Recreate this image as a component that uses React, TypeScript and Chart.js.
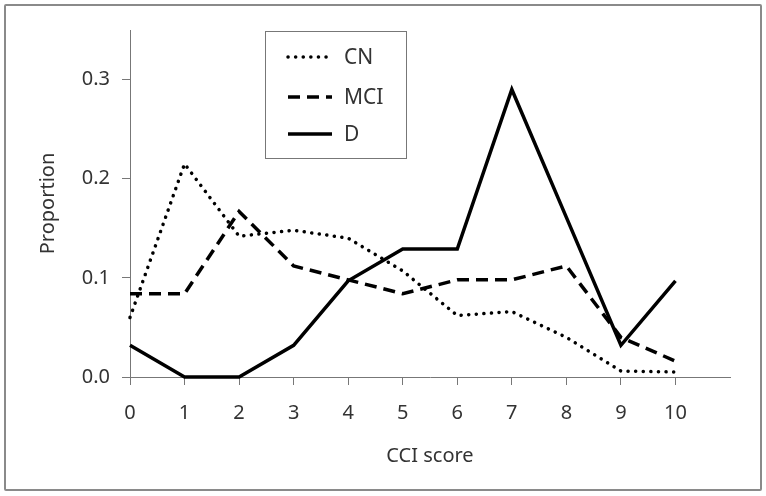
import React, { useEffect, useRef } from "react";
import { Chart, registerables } from "chart.js";

Chart.register(...registerables);

const scores = [0, 1, 2, 3, 4, 5, 6, 7, 8, 9, 10];
const cnValues = [0.06, 0.215, 0.142, 0.148, 0.14, 0.107, 0.062, 0.066, 0.04, 0.006, 0.005];
const mciValues = [0.084, 0.084, 0.167, 0.112, 0.098, 0.084, 0.098, 0.098, 0.112, 0.04, 0.016];
const dValues = [0.032, 0, 0, 0.032, 0.097, 0.129, 0.129, 0.29, 0.161, 0.032, 0.097];
const yTickValues = [0, 0.1, 0.2, 0.3];
const seriesNames = ["CN", "MCI", "D"];

const FONT = "'Noto Sans', 'Open Sans', sans-serif";
const TEXT = "#333";
const AXIS = "#777";

const legendPlugin = {
  id: "boxLegend",
  afterDraw(chart: any) {
    const ctx = chart.ctx;
    ctx.save();
    ctx.strokeStyle = "#777";
    ctx.lineWidth = 1;
    ctx.strokeRect(265.5, 31.5, 141, 127);
    const ys = [57, 97, 134];
    chart.data.datasets.forEach((ds: any, i: number) => {
      ctx.beginPath();
      ctx.strokeStyle = "#000";
      ctx.lineWidth = ds.borderWidth;
      ctx.lineCap = ds.borderCapStyle || "butt";
      ctx.setLineDash(ds.borderDash || []);
      ctx.moveTo(288, ys[i]);
      ctx.lineTo(332, ys[i]);
      ctx.stroke();
      ctx.setLineDash([]);
      ctx.fillStyle = TEXT;
      ctx.font = `21px ${FONT}`;
      ctx.textAlign = "left";
      ctx.textBaseline = "middle";
      ctx.fillText(ds.label, 344, ys[i] + 1);
    });
    ctx.restore();
  },
};

export default function App() {
  const ref = useRef<HTMLCanvasElement | null>(null);
  useEffect(() => {
    document.body.style.margin = "0";
    const toPts = (arr: number[]) => scores.map((x, i) => ({ x, y: arr[i] }));
    const chart = new Chart(ref.current as HTMLCanvasElement, {
      type: "line",
      data: {
        datasets: [
          {
            label: seriesNames[0],
            data: toPts(cnValues),
            borderColor: "#000",
            borderWidth: 3.5,
            borderDash: [0.1, 7.5],
            borderCapStyle: "round",
            pointRadius: 0,
            tension: 0,
            clip: false,
          },
          {
            label: seriesNames[1],
            data: toPts(mciValues),
            borderColor: "#000",
            borderWidth: 3.5,
            borderDash: [12, 7],
            pointRadius: 0,
            tension: 0,
            clip: false,
          },
          {
            label: seriesNames[2],
            data: toPts(dValues),
            borderColor: "#000",
            borderWidth: 3.5,
            pointRadius: 0,
            tension: 0,
            clip: false,
          },
        ] as any,
      },
      options: {
        animation: false,
        responsive: false,
        events: [],
        layout: { padding: { left: 32, top: 30, right: 36, bottom: 24 } },
        plugins: { legend: { display: false }, tooltip: { enabled: false } },
        scales: {
          x: {
            type: "linear",
            min: 0,
            max: 11,
            afterBuildTicks: (s: any) => {
              s.ticks = scores.map((v) => ({ value: v }));
            },
            afterFit: (s: any) => {
              s.height = 95;
            },
            ticks: {
              color: TEXT,
              font: { family: FONT, size: 20 },
              padding: 16,
              maxRotation: 0,
              callback: (v: any) => String(v),
            },
            grid: { drawOnChartArea: false, tickLength: 8, color: AXIS, lineWidth: 1 },
            border: { color: AXIS, width: 1 },
            title: {
              display: true,
              text: "CCI score",
              color: TEXT,
              font: { family: FONT, size: 20 },
              padding: { top: 14 },
            },
          },
          y: {
            type: "linear",
            min: 0,
            max: 0.35,
            afterBuildTicks: (s: any) => {
              s.ticks = yTickValues.map((v) => ({ value: v }));
            },
            afterFit: (s: any) => {
              s.width = 98;
            },
            ticks: {
              color: TEXT,
              font: { family: FONT, size: 20 },
              padding: 12,
              callback: (v: any) => Number(v).toFixed(1),
            },
            grid: { drawOnChartArea: false, tickLength: 8, color: AXIS, lineWidth: 1 },
            border: { color: AXIS, width: 1 },
            title: {
              display: true,
              text: "Proportion",
              color: TEXT,
              font: { family: FONT, size: 20 },
              padding: { bottom: 20 },
            },
          },
        },
      } as any,
      plugins: [legendPlugin],
    });
    return () => chart.destroy();
  }, []);
  return (
    <div style={{ position: "relative", width: 766, height: 496, background: "#fff" }}>
      <canvas ref={ref} width={766} height={496} style={{ display: "block" }} />
      <div
        style={{
          position: "absolute",
          left: 4,
          top: 4,
          width: 754,
          height: 483,
          border: "2px solid #8a8a8a",
          borderRadius: 2,
          pointerEvents: "none",
        }}
      />
    </div>
  );
}
